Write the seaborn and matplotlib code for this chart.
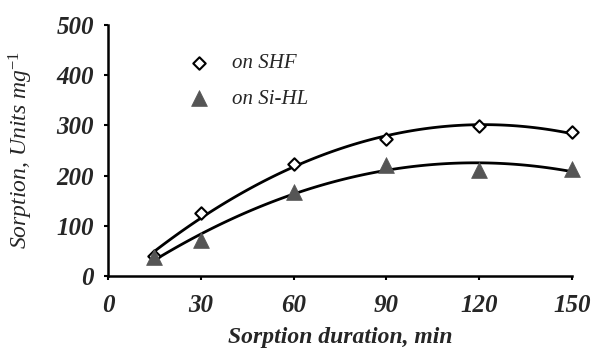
import matplotlib
matplotlib.use("Agg")
import matplotlib.pyplot as plt
import seaborn as sns
import pandas as pd
import numpy as np

duration = [15, 30, 60, 90, 120, 150]
shf = [40, 125, 224, 272, 298, 287]
sihl = [37, 72, 168, 221, 211, 213]
x_ticks = [0, 30, 60, 90, 120, 150]
y_ticks = [0, 100, 200, 300, 400, 500]

sns.set_style("ticks")
plt.rcParams['font.family'] = ['Liberation Serif', 'DejaVu Serif']
plt.rcParams['mathtext.fontset'] = 'custom'
plt.rcParams['mathtext.rm'] = 'Liberation Serif'
plt.rcParams['mathtext.it'] = 'Liberation Serif:italic'

df = pd.DataFrame({"duration": duration, "SHF": shf, "SiHL": sihl})

fig = plt.figure(figsize=(5.95, 3.48), dpi=100)
ax = fig.add_axes([0.1815, 0.207, 0.78, 0.721])

line_kws = dict(color="black", linewidth=2.0)
sns.regplot(data=df, x="duration", y="SHF", order=2, ci=None, scatter=False,
            truncate=True, line_kws=line_kws, ax=ax)
sns.regplot(data=df, x="duration", y="SiHL", order=2, ci=None, scatter=False,
            truncate=True, line_kws=line_kws, ax=ax)

sns.scatterplot(data=df, x="duration", y="SHF", marker="D", s=40,
                facecolor="white", edgecolor="black", linewidth=1.5,
                ax=ax, zorder=5, label="on SHF", clip_on=False)
sns.scatterplot(data=df, x="duration", y="SiHL", marker="^", s=130,
                color="#555555", edgecolor="#555555", linewidth=0.5,
                ax=ax, zorder=5, label="on Si-HL", clip_on=False)

ax.set_xlim(0, 150)
ax.set_ylim(0, 500)
ax.set_xticks(x_ticks)
ax.set_yticks(y_ticks)
ax.set_xticklabels([str(v) for v in x_ticks], fontsize=18, fontstyle="italic", fontweight="bold")
ax.set_yticklabels([str(v) for v in y_ticks], fontsize=18, fontstyle="italic", fontweight="bold")
ax.tick_params(axis="both", direction="out", length=3, width=1.5, color="black", pad=7)
ax.tick_params(axis="x", pad=10)

ax.set_xlabel("Sorption duration, min", fontsize=17, fontstyle="italic", fontweight="bold", labelpad=7)
ax.set_ylabel("Sorption, Units mg$^{-1}$", fontsize=17, fontstyle="italic")
ax.yaxis.set_label_coords(-0.158, 0.5)

for s in ["top", "right"]:
    ax.spines[s].set_visible(False)
for s in ["left", "bottom"]:
    ax.spines[s].set_linewidth(1.8)
    ax.spines[s].set_color("black")

leg = ax.legend(loc="upper left", bbox_to_anchor=(0.11, 0.96), frameon=False,
                prop=dict(family="Liberation Serif", style="italic", size=15),
                handletextpad=0.6, labelspacing=0.75, markerscale=1.0)

fig.savefig("out.png", dpi=100)
